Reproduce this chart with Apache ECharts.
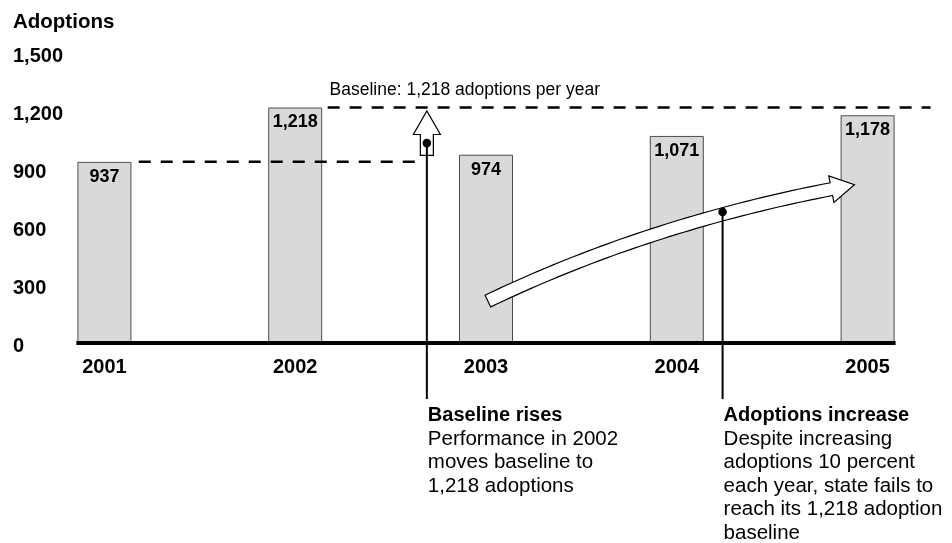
<!DOCTYPE html>
<html>
<head>
<meta charset="utf-8">
<title>Adoptions per year</title>
<script src="https://cdn.jsdelivr.net/npm/echarts@6/dist/echarts.min.js"></script>
<style>
  html, body { margin: 0; padding: 0; background: #fff; }
  #chart { width: 952px; height: 543px; }
</style>
</head>
<body>
<div id="chart"></div>
<script>
// ---- data ----
const years = ['2001', '2002', '2003', '2004', '2005'];
const adoptions = [937, 1218, 974, 1071, 1178];
const yMin = 0;
const yMax = 1500;
const yStep = 300;

// baselines (adoptions per year)
const priorBaseline = 937;
const newBaseline = 1218;

// annotation anchors, x in category-index units, y in adoptions
const priorBaselineSpan = [0.18, 1.64];
const newBaselineSpan = [1.17, 4.33];
const riseArrowX = 1.69;
const riseArrowRange = [970, 1200];
const riseDotValue = 1034;
const trendCurve = [[2.01, 217], [2.84, 610], [3.81, 796]]; // tail, control, head base
const trendDot = [3.24, 678];
const leaderBottomValue = -290;
const baselineLabelX = 1.18;

const riseNoteTitle = 'Baseline rises';
const riseNoteLines = ['Performance in 2002', 'moves baseline to', '1,218 adoptions'];
const trendNoteTitle = 'Adoptions increase';
const trendNoteLines = ['Despite increasing', 'adoptions 10 percent', 'each year, state fails to', 'reach its 1,218 adoption', 'baseline'];

// ---- style ----
const FONT = "'Liberation Sans', Arial, Helvetica, sans-serif";
const BAR_W = 54;
const fmt = v => v.toLocaleString('en-US');

function arrowHeadPoly(base, dir, headHalf, headLen) {
  const n = [dir[1], -dir[0]];
  return [
    [base[0] + n[0] * headHalf, base[1] + n[1] * headHalf],
    [base[0] + dir[0] * headLen, base[1] + dir[1] * headLen],
    [base[0] - n[0] * headHalf, base[1] - n[1] * headHalf]
  ];
}

function renderNotes(params, api) {
  const pt = (x, y) => api.coord([x, y]);
  const children = [];

  // heavy zero line spanning the bars
  const z0 = pt(0, 0), z4 = pt(years.length - 1, 0);
  children.push({
    type: 'line',
    shape: { x1: z0[0] - BAR_W / 2 - 1, y1: z0[1], x2: z4[0] + BAR_W / 2 + 1, y2: z4[1] },
    style: { stroke: '#000', lineWidth: 4 }
  });

  // dashed baselines
  [[priorBaselineSpan, priorBaseline], [newBaselineSpan, newBaseline]].forEach(([span, v]) => {
    const p1 = pt(span[0], v), p2 = pt(span[1], v);
    children.push({
      type: 'line',
      shape: { x1: p1[0], y1: p1[1], x2: p2[0], y2: p2[1] },
      style: { stroke: '#000', lineWidth: 2.5, lineDash: [12, 10] }
    });
  });

  // baseline caption
  const cap = pt(baselineLabelX, newBaseline);
  children.push({
    type: 'text',
    style: {
      text: 'Baseline: ' + fmt(newBaseline) + ' adoptions per year',
      x: cap[0], y: cap[1] - 17.5,
      fill: '#000', fontFamily: FONT, fontSize: 17.5,
      align: 'left', verticalAlign: 'middle'
    }
  });

  const shaftHalf = 6.5, headHalf = 13.5, headLen = 23.5;

  // rising hollow arrow
  const rb = pt(riseArrowX, riseArrowRange[0]);
  const rt = pt(riseArrowX, riseArrowRange[1]);
  const xh = rb[0], yh = rt[1] + headLen;
  children.push({
    type: 'polygon',
    shape: {
      points: [
        [xh - shaftHalf, rb[1]], [xh - shaftHalf, yh], [xh - headHalf, yh],
        [xh, rt[1]],
        [xh + headHalf, yh], [xh + shaftHalf, yh], [xh + shaftHalf, rb[1]]
      ]
    },
    style: { fill: '#fff', stroke: '#000', lineWidth: 1.2, lineJoin: 'miter' }
  });

  // curved trend arrow
  const P0 = pt(trendCurve[0][0], trendCurve[0][1]);
  const C = pt(trendCurve[1][0], trendCurve[1][1]);
  const P2 = pt(trendCurve[2][0], trendCurve[2][1]);
  const upper = [], lower = [];
  const N = 48;
  let lastDir = [1, 0];
  for (let i = 0; i <= N; i++) {
    const t = i / N, u = 1 - t;
    const x = u * u * P0[0] + 2 * u * t * C[0] + t * t * P2[0];
    const y = u * u * P0[1] + 2 * u * t * C[1] + t * t * P2[1];
    let dx = 2 * u * (C[0] - P0[0]) + 2 * t * (P2[0] - C[0]);
    let dy = 2 * u * (C[1] - P0[1]) + 2 * t * (P2[1] - C[1]);
    const len = Math.hypot(dx, dy);
    dx /= len; dy /= len;
    lastDir = [dx, dy];
    const nx = dy, ny = -dx;
    upper.push([x + nx * shaftHalf, y + ny * shaftHalf]);
    lower.push([x - nx * shaftHalf, y - ny * shaftHalf]);
  }
  const head = arrowHeadPoly(P2, lastDir, headHalf, headLen);
  children.push({
    type: 'polygon',
    shape: { points: upper.concat(head, lower.reverse()) },
    style: { fill: '#fff', stroke: '#000', lineWidth: 1.2, lineJoin: 'miter' }
  });

  // leader lines, dots and notes
  const notes = [
    { dot: pt(riseArrowX, riseDotValue), title: riseNoteTitle, lines: riseNoteLines },
    { dot: pt(trendDot[0], trendDot[1]), title: trendNoteTitle, lines: trendNoteLines }
  ];
  const bottomY = pt(0, leaderBottomValue)[1];
  notes.forEach(n => {
    children.push({
      type: 'line',
      shape: { x1: n.dot[0], y1: n.dot[1], x2: n.dot[0], y2: bottomY },
      style: { stroke: '#000', lineWidth: 2 }
    });
    children.push({
      type: 'circle',
      shape: { cx: n.dot[0], cy: n.dot[1], r: 4.3 },
      style: { fill: '#000' }
    });
    children.push({
      type: 'text',
      style: {
        text: '{b|' + n.title + '}\n' + n.lines.map(l => '{r|' + l + '}').join('\n'),
        x: n.dot[0] + 1, y: bottomY + 5,
        align: 'left', verticalAlign: 'top',
        fill: '#000',
        rich: {
          b: { fontFamily: FONT, fontWeight: 'bold', fontSize: 20, lineHeight: 23.5, fill: '#000' },
          r: { fontFamily: FONT, fontSize: 20.5, lineHeight: 23.5, fill: '#000' }
        }
      }
    });
  });

  return { type: 'group', children };
}

const chart = echarts.init(document.getElementById('chart'), null, { renderer: 'canvas' });
chart.setOption({
  animation: false,
  backgroundColor: '#fff',
  title: {
    text: 'Adoptions',
    left: 13, top: 12, padding: 0,
    textStyle: { fontFamily: FONT, fontWeight: 'bold', fontSize: 20.5, lineHeight: 20, color: '#000' }
  },
  grid: { left: 9, right: -11, top: 53, bottom: 200, outerBoundsMode: 'none' },
  xAxis: [
    {
      type: 'category',
      data: years,
      axisLine: { show: false },
      axisTick: { show: false },
      axisLabel: { margin: 14, fontFamily: FONT, fontWeight: 'bold', fontSize: 20, color: '#000' }
    },
    { type: 'value', min: -0.5, max: 4.5, show: false }
  ],
  yAxis: {
    type: 'value',
    min: yMin, max: yMax, interval: yStep,
    splitLine: { show: false },
    axisLine: { show: false },
    axisTick: { show: false },
    axisLabel: {
      inside: true, margin: 4,
      formatter: v => fmt(v),
      fontFamily: FONT, fontWeight: 'bold', fontSize: 20, color: '#000',
      verticalAlign: 'top', lineHeight: 6
    }
  },
  series: [
    {
      type: 'bar',
      data: adoptions,
      barWidth: BAR_W,
      itemStyle: { color: '#d9d9d9', borderColor: '#4d4d4d', borderWidth: 1 },
      label: {
        show: true, position: 'insideTop', distance: 6,
        formatter: p => fmt(p.value),
        fontFamily: FONT, fontWeight: 'bold', fontSize: 18, color: '#000'
      }
    },
    {
      type: 'custom',
      xAxisIndex: 1, yAxisIndex: 0,
      clip: false, z: 5, silent: true,
      data: [[0, 0]],
      renderItem: renderNotes
    }
  ]
});
</script>
</body>
</html>
